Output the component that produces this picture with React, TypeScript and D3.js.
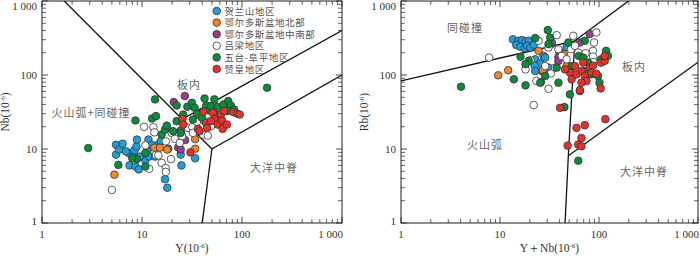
import * as d3 from 'd3';

// legend groups
const groupNames = ['贺兰山地区', '鄂尔多斯盆地北部', '鄂尔多斯盆地中南部', '吕梁地区', '五台-阜平地区', '赞皇地区'];
const groupColors = ['#1fa0dc', '#f0862a', '#983f8c', '#ffffff', '#0b8c3c', '#e83228'];

// Nb–Y diagram: [Y, Nb]
const helanYNb = [[5.5, 11.4], [5.5, 8.4], [5.9, 9.8], [6.4, 11.8], [7.4, 8.8], [7.5, 6.0], [8.1, 7.9], [8.4, 9.6], [8.6, 5.8], [8.8, 10.8], [8.9, 13.4], [9.3, 5.3], [10.5, 7.8], [10.8, 7.0], [11.3, 9.3], [11.6, 13.4], [11.8, 7.9], [12.5, 11.4], [13.5, 7.9], [14.6, 11.4], [15.4, 12.7], [17, 3.9], [17.9, 3.0], [18.3, 10.1], [24.4, 8.4], [24.8, 6.0], [34, 7.5], [6.9, 9.3], [9.5, 7.9]];
const ordosNYNb = [[5.3, 4.5], [13.3, 10.4], [15.1, 10.4], [17.9, 9.8], [34, 13.6], [34, 10.1]];
const ordosSYNb = [[20.8, 43], [26.8, 52], [24.4, 17.7], [27, 13.2], [23, 10.5], [24.4, 9.8]];
const lvliangYNb = [[5, 2.8], [10.5, 19.9], [10.8, 11.2], [11.8, 5.4], [13, 19.7], [13.3, 16.8], [13.8, 8.3], [15.7, 6.5], [17.3, 5.5], [17.3, 4.9], [19.5, 7.3], [17.3, 12.7], [17.9, 18.9], [19.8, 16.5], [21.3, 13.7], [25.2, 14.9], [28.9, 19.3], [31.9, 19.9], [35.4, 23.3], [42.2, 23.8], [40.6, 15.7], [45.5, 15.2], [49, 20.3], [63, 23.8], [14.6, 8.2], [23.9, 12.1], [32.3, 16.5]];
const wutaiYNb = [[2.9, 10.3], [5.8, 6.1], [8.6, 24.3], [10.8, 5.8], [12.6, 25.8], [13.8, 27.8], [13.5, 46.8], [15.7, 15.7], [17, 18.3], [20.5, 17.4], [22.2, 23.8], [22.2, 38.7], [25.8, 29.2], [28.4, 37.2], [31.6, 42.1], [33.6, 36], [35.7, 29.9], [39.7, 26.4], [42.2, 48.2], [43.8, 38.7], [47.2, 33.1], [53, 46.8], [55, 29.2], [57.1, 37.2], [65.4, 40], [72.8, 44.4], [77.3, 38.7], [83.4, 34.2], [71.6, 32.5], [178, 67.3], [8.9, 7.3], [8, 7.5], [10.8, 8.8], [24.4, 16.5], [32.3, 25], [49, 37.9], [17.7, 20.7]];
const zanhuangYNb = [[25.4, 25.5], [25.8, 21.4], [30.5, 9.0], [36.3, 18.7], [41.2, 31.8], [43.8, 22.5], [44.8, 19.3], [51, 30.8], [53, 25.5], [57.1, 21.4], [61.5, 29.2], [63, 24.3], [64, 18.7], [66.4, 32.5], [70.6, 21.4], [82, 31.5], [90, 29.9], [94.8, 29.2], [37.6, 17.4], [49, 23.8]];

// Rb–(Y+Nb) diagram: [Y+Nb, Rb]
const helanYbRb = [[13.5, 304], [15.3, 290], [16.7, 296], [18.1, 283], [19.5, 290], [14.6, 255], [16.1, 240], [17.8, 230], [18.8, 248], [20.3, 235], [21.9, 255], [22.7, 163], [27.5, 181], [25.5, 143], [22.4, 134], [26.5, 113], [22.7, 113], [32.1, 119], [47.1, 240], [28.6, 172], [30.9, 126]];
const ordosNYbRb = [[9.6, 99], [12.1, 116], [24.5, 212], [27.1, 116], [25.9, 80], [44.3, 191], [47.1, 132]];
const ordosSYbRb = [[32.8, 261], [33.4, 275], [39.5, 212], [38.9, 175], [80.7, 357], [64.1, 275], [38.9, 155]];
const lvliangYbRb = [[7.76, 172], [18.1, 119], [21.9, 39.2], [23.3, 83], [30.9, 65.2], [32.6, 105], [24.5, 290], [37.4, 345], [55, 338], [94, 376], [89.1, 275], [38.9, 223], [42, 181], [47.1, 163], [52.1, 223], [57.1, 248], [61.7, 201], [73, 197], [87.1, 212], [87.1, 177], [87.1, 150], [30.9, 235], [20.3, 158], [36, 126], [28.6, 132]];
const wutaiYbRb = [[30.4, 404], [32.1, 321], [30.9, 261], [16.1, 176], [13.8, 87.4], [18.1, 72.4], [4.04, 69.5], [19.5, 155], [28.6, 96.9], [25.5, 78.7], [37.4, 126], [38.9, 78.7], [44.7, 36.8], [50.9, 54.7], [61.7, 6.95], [71.9, 290], [62.6, 181], [69.2, 172], [77.6, 147], [105, 163], [118, 212], [123, 181], [52.9, 132], [71.9, 113], [83.8, 102], [97.7, 96.9], [101, 78.7], [49, 275], [22.7, 315], [18.1, 140]];
const zanhuangYbRb = [[40.4, 36], [59.3, 19.3], [71.9, 21], [116, 25.3], [66.5, 14.1], [61.7, 11.5], [48.2, 11.1], [66.5, 10.9], [64.1, 60.6], [104, 65.9], [50.9, 108], [52.9, 87.4], [59.3, 102], [66.5, 113], [71.9, 96.9], [74.7, 83], [80.7, 126], [87.1, 134], [83.8, 108], [94, 104], [105, 147], [114, 155], [66.5, 78.7], [64.1, 62.5], [45.4, 119], [57.1, 132], [69.2, 147], [114, 181]];

// boundary lines
const yNbLines = [
    [[1, 2000], [50, 10]],
    [[50, 10], [40, 1]],
    [[50, 10], [1000, 100]],
    [[25.3, 25.3], [1000, 400]],
];
const ybRbLines = [
    [[1, 83], [57, 290]],
    [[57, 290], [400, 2000]],
    [[57, 290], [49, 8.1], [45.4, 1]],
    [[49, 8.1], [1000, 149]],
];

const xTickVals = [1, 10, 100, 1000];
const xTickLabels = ['1', '10', '100', '1 000'];

const tickFont = '"Liberation Serif", "DejaVu Serif", serif';
const cjkFont = '"Noto Sans CJK SC", sans-serif';

function Panel({ x0, x1, id, sets, lines, yLabel, xLabel, notes, legend }: any) {
    const x = d3.scaleLog().domain([1, 1000]).range([x0, x1]);
    const y = d3.scaleLog().domain([1, 1000]).range([223, 1]);
    const minors: number[] = [];
    for (let d = 1; d < 1000; d *= 10) for (let k = 2; k <= 9; k++) minors.push(d * k);
    const line = d3.line<number[]>().x((d) => x(d[0])).y((d) => y(d[1]));
    const r = 3.8;
    return (
        <g>
            <defs>
                <clipPath id={id}>
                    <rect x={x0} y={1} width={x1 - x0} height={222} />
                </clipPath>
            </defs>
            <rect x={x0} y={1} width={x1 - x0} height={222} fill="none" stroke="#222" strokeWidth={1} />
            {/* ticks, all sides pointing inward */}
            {xTickVals.map((v) => (
                <g key={'M' + v} stroke="#222" strokeWidth={0.8}>
                    <line x1={x(v)} x2={x(v)} y1={223} y2={217} />
                    <line x1={x(v)} x2={x(v)} y1={1} y2={7} />
                    <line x1={x0} x2={x0 + 6} y1={y(v)} y2={y(v)} />
                    <line x1={x1} x2={x1 - 6} y1={y(v)} y2={y(v)} />
                </g>
            ))}
            {minors.map((v) => (
                <g key={'m' + v} stroke="#222" strokeWidth={0.7}>
                    <line x1={x(v)} x2={x(v)} y1={223} y2={219} />
                    <line x1={x(v)} x2={x(v)} y1={1} y2={5} />
                    <line x1={x0} x2={x0 + 4} y1={y(v)} y2={y(v)} />
                    <line x1={x1} x2={x1 - 4} y1={y(v)} y2={y(v)} />
                </g>
            ))}
            {xTickVals.map((v, i) => (
                <text key={'xl' + v} x={i === 3 ? x1 + 1 : x(v)} y={238} textAnchor={i === 3 ? 'end' : 'middle'}
                    fontFamily={tickFont} fontSize={11} fill="#333">{xTickLabels[i]}</text>
            ))}
            {xTickVals.map((v, i) => (
                <text key={'yl' + v} x={x0 - 5} y={i === 3 ? 10 : i === 0 ? y(v) + 2 : y(v) + 4} textAnchor="end"
                    fontFamily={tickFont} fontSize={11} fill="#333">{xTickLabels[i]}</text>
            ))}
            <text x={(x0 + x1) / 2} y={252} textAnchor="middle" fontFamily={tickFont} fontSize={11.5} fill="#333">
                {xLabel}(10<tspan dy={-4} fontSize={7}>-6</tspan><tspan dy={4}>)</tspan>
            </text>
            <text transform={`translate(${x0 - 33},112) rotate(-90)`} textAnchor="middle" fontFamily={tickFont} fontSize={11.5} fill="#333">
                {yLabel}(10<tspan dy={-4} fontSize={7}>-6</tspan><tspan dy={4}>)</tspan>
            </text>
            <g clipPath={`url(#${id})`}>
                {lines.map((l: number[][], i: number) => (
                    <path key={i} d={line(l) || ''} fill="none" stroke="#111" strokeWidth={1.3} />
                ))}
            </g>
            {notes.map((n: any, i: number) => (
                <text key={'n' + i} x={n.x} y={n.y} textAnchor="middle" fontFamily={cjkFont} fontSize={11}
                    letterSpacing={1} fill="#666">{n.t}</text>
            ))}
            <g clipPath={`url(#${id})`}>
                {sets.map((s: number[][], gi: number) => (
                    <g key={gi}>
                        {s.map((p, i) => (
                            <circle key={i} cx={x(p[0])} cy={y(p[1])} r={r} fill={groupColors[gi]} stroke="#333" strokeWidth={0.8} />
                        ))}
                    </g>
                ))}
            </g>
            {legend && groupNames.map((name, i) => (
                <g key={'lg' + i}>
                    <circle cx={216.7} cy={11 + i * 11.6} r={3.8} fill={groupColors[i]} stroke="#333" strokeWidth={0.8} />
                    <text x={224.5} y={14.5 + i * 11.6} fontFamily={cjkFont} fontSize={9.5} letterSpacing={0.6} fill="#555">{name}</text>
                </g>
            ))}
        </g>
    );
}

export default function App() {
    return (
        <svg width={700} height={256} style={{ position: 'absolute', left: 0, top: 0, background: '#fff' }}>
            <rect width={700} height={256} fill="#fff" />
            <Panel
                id="clipL"
                x0={42}
                x1={342}
                sets={[helanYNb, ordosNYNb, ordosSYNb, lvliangYNb, wutaiYNb, zanhuangYNb]}
                lines={yNbLines}
                yLabel="Nb"
                xLabel="Y"
                legend
                notes={[
                    { x: 189, y: 89, t: '板内' },
                    { x: 91, y: 117, t: '火山弧+同碰撞' },
                    { x: 274, y: 172, t: '大洋中脊' },
                ]}
            />
            <Panel
                id="clipR"
                x0={401}
                x1={698}
                sets={[helanYbRb, ordosNYbRb, ordosSYbRb, lvliangYbRb, wutaiYbRb, zanhuangYbRb]}
                lines={ybRbLines}
                yLabel="Rb"
                xLabel="Y＋Nb"
                notes={[
                    { x: 465, y: 32, t: '同碰撞' },
                    { x: 634, y: 71, t: '板内' },
                    { x: 485, y: 149, t: '火山弧' },
                    { x: 644, y: 176, t: '大洋中脊' },
                ]}
            />
        </svg>
    );
}
